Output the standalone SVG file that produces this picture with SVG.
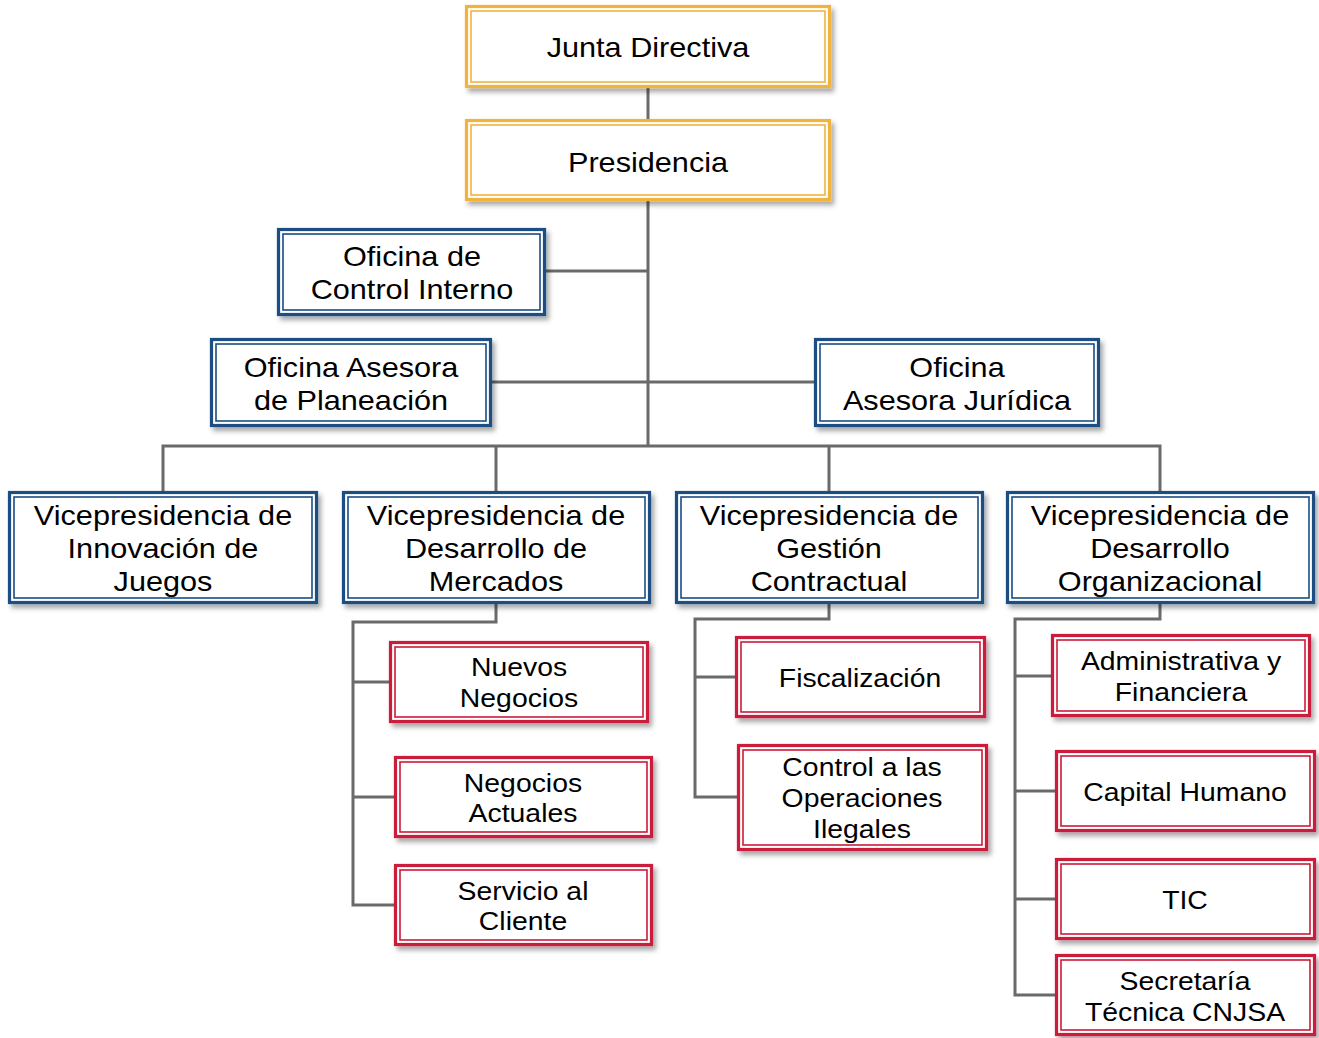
<svg xmlns="http://www.w3.org/2000/svg" width="1319" height="1038" viewBox="0 0 1319 1038">
<defs>
<filter id="sh" x="-10%" y="-10%" width="125%" height="135%">
<feDropShadow dx="3" dy="4" stdDeviation="2.5" flood-color="#000" flood-opacity="0.35"/>
</filter>
<style>
.o{fill:#fff;stroke-width:3.2;filter:url(#sh)}
.i{fill:none;stroke-width:1.6}
.gold .o,.gold .i{stroke:#F2B33D}
.blue .o,.blue .i{stroke:#1A4E83}
.red .o,.red .i{stroke:#CC1B3A}
text{font-family:"Liberation Sans",Arial,sans-serif;fill:#000;text-anchor:middle}
.b{font-size:27px}
.s{font-size:25px}
#connectors path{fill:none;stroke:#6A6A6A;stroke-width:3}
</style>
</defs>
<rect width="1319" height="1038" fill="#fff"/>
<g id="connectors">
<path d="M648 88V446"/>
<path d="M546 271H648"/>
<path d="M492 382H814"/>
<path d="M163 491V446H1160V491"/>
<path d="M496 446V491M829 446V491"/>
<path d="M496 604V622H353V905H394M353 682H389M353 797H394"/>
<path d="M829 604V619H695V797H737M695 677H735"/>
<path d="M1160 604V619H1015V995H1055M1015 676H1051M1015 791H1055M1015 899H1055"/>
</g>
<g id="junta" class="gold">
<rect class="o" x="466.5" y="6.5" width="363" height="80"/>
<rect class="i" x="471" y="11" width="354" height="71"/>
<text class="b" transform="translate(648 0) scale(1.135 1)"><tspan x="0" y="57">Junta Directiva</tspan></text>
</g>
<g id="presidencia" class="gold">
<rect class="o" x="466.5" y="120.5" width="363" height="79"/>
<rect class="i" x="471" y="125" width="354" height="70"/>
<text class="b" transform="translate(648 0) scale(1.135 1)"><tspan x="0" y="172">Presidencia</tspan></text>
</g>
<g id="control-interno" class="blue">
<rect class="o" x="278.5" y="229.5" width="266" height="85"/>
<rect class="i" x="283" y="234" width="257" height="76"/>
<text class="b" transform="translate(412 0) scale(1.135 1)"><tspan x="0" y="266">Oficina de</tspan><tspan x="0" y="299">Control Interno</tspan></text>
</g>
<g id="planeacion" class="blue">
<rect class="o" x="211.5" y="339.5" width="279" height="86"/>
<rect class="i" x="216" y="344" width="270" height="77"/>
<text class="b" transform="translate(351 0) scale(1.135 1)"><tspan x="0" y="377">Oficina Asesora</tspan><tspan x="0" y="410">de Planeación</tspan></text>
</g>
<g id="juridica" class="blue">
<rect class="o" x="815.5" y="339.5" width="283" height="86"/>
<rect class="i" x="820" y="344" width="274" height="77"/>
<text class="b" transform="translate(957 0) scale(1.135 1)"><tspan x="0" y="377">Oficina</tspan><tspan x="0" y="410">Asesora Jurídica</tspan></text>
</g>
<g id="vp-innovacion" class="blue">
<rect class="o" x="9.5" y="492.5" width="307" height="110"/>
<rect class="i" x="14" y="497" width="298" height="101"/>
<text class="b" transform="translate(163 0) scale(1.135 1)"><tspan x="0" y="525">Vicepresidencia de</tspan><tspan x="0" y="558">Innovación de</tspan><tspan x="0" y="591">Juegos</tspan></text>
</g>
<g id="vp-mercados" class="blue">
<rect class="o" x="343.5" y="492.5" width="306" height="110"/>
<rect class="i" x="348" y="497" width="297" height="101"/>
<text class="b" transform="translate(496 0) scale(1.135 1)"><tspan x="0" y="525">Vicepresidencia de</tspan><tspan x="0" y="558">Desarrollo de</tspan><tspan x="0" y="591">Mercados</tspan></text>
</g>
<g id="vp-contractual" class="blue">
<rect class="o" x="676.5" y="492.5" width="306" height="110"/>
<rect class="i" x="681" y="497" width="297" height="101"/>
<text class="b" transform="translate(829 0) scale(1.135 1)"><tspan x="0" y="525">Vicepresidencia de</tspan><tspan x="0" y="558">Gestión</tspan><tspan x="0" y="591">Contractual</tspan></text>
</g>
<g id="vp-organizacional" class="blue">
<rect class="o" x="1007.5" y="492.5" width="306" height="110"/>
<rect class="i" x="1012" y="497" width="297" height="101"/>
<text class="b" transform="translate(1160 0) scale(1.135 1)"><tspan x="0" y="525">Vicepresidencia de</tspan><tspan x="0" y="558">Desarrollo</tspan><tspan x="0" y="591">Organizacional</tspan></text>
</g>
<g id="nuevos-negocios" class="red">
<rect class="o" x="390.5" y="642.5" width="257" height="79"/>
<rect class="i" x="395" y="647" width="248" height="70"/>
<text class="s" transform="translate(519 0) scale(1.135 1)"><tspan x="0" y="676">Nuevos</tspan><tspan x="0" y="707">Negocios</tspan></text>
</g>
<g id="negocios-actuales" class="red">
<rect class="o" x="395.5" y="757.5" width="256" height="79"/>
<rect class="i" x="400" y="762" width="247" height="70"/>
<text class="s" transform="translate(523 0) scale(1.135 1)"><tspan x="0" y="792">Negocios</tspan><tspan x="0" y="822">Actuales</tspan></text>
</g>
<g id="servicio-cliente" class="red">
<rect class="o" x="395.5" y="865.5" width="256" height="79"/>
<rect class="i" x="400" y="870" width="247" height="70"/>
<text class="s" transform="translate(523 0) scale(1.135 1)"><tspan x="0" y="900">Servicio al</tspan><tspan x="0" y="930">Cliente</tspan></text>
</g>
<g id="fiscalizacion" class="red">
<rect class="o" x="736.5" y="637.5" width="248" height="79"/>
<rect class="i" x="741" y="642" width="239" height="70"/>
<text class="s" transform="translate(860 0) scale(1.135 1)"><tspan x="0" y="687">Fiscalización</tspan></text>
</g>
<g id="operaciones-ilegales" class="red">
<rect class="o" x="738.5" y="745.5" width="248" height="104"/>
<rect class="i" x="743" y="750" width="239" height="95"/>
<text class="s" transform="translate(862 0) scale(1.135 1)"><tspan x="0" y="776">Control a las</tspan><tspan x="0" y="807">Operaciones</tspan><tspan x="0" y="838">Ilegales</tspan></text>
</g>
<g id="administrativa" class="red">
<rect class="o" x="1052.5" y="635.5" width="257" height="80"/>
<rect class="i" x="1057" y="640" width="248" height="71"/>
<text class="s" transform="translate(1181 0) scale(1.135 1)"><tspan x="0" y="670">Administrativa y</tspan><tspan x="0" y="701">Financiera</tspan></text>
</g>
<g id="capital-humano" class="red">
<rect class="o" x="1056.5" y="751.5" width="258" height="79"/>
<rect class="i" x="1061" y="756" width="249" height="70"/>
<text class="s" transform="translate(1185 0) scale(1.135 1)"><tspan x="0" y="801">Capital Humano</tspan></text>
</g>
<g id="tic" class="red">
<rect class="o" x="1056.5" y="859.5" width="258" height="79"/>
<rect class="i" x="1061" y="864" width="249" height="70"/>
<text class="s" transform="translate(1185 0) scale(1.135 1)"><tspan x="0" y="909">TIC</tspan></text>
</g>
<g id="secretaria" class="red">
<rect class="o" x="1056.5" y="955.5" width="258" height="79"/>
<rect class="i" x="1061" y="960" width="249" height="70"/>
<text class="s" transform="translate(1185 0) scale(1.135 1)"><tspan x="0" y="990">Secretaría</tspan><tspan x="0" y="1021">Técnica CNJSA</tspan></text>
</g>
</svg>
